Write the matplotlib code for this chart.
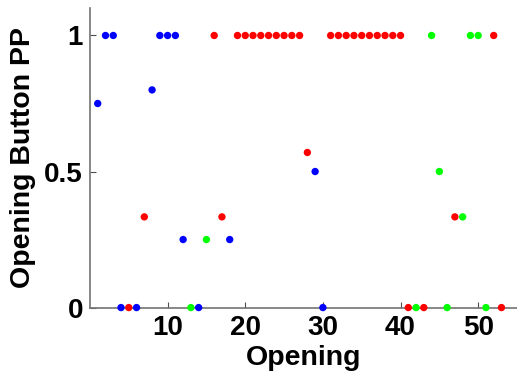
import matplotlib
matplotlib.use("Agg")
import matplotlib.pyplot as plt
from matplotlib.ticker import FuncFormatter

# opening index, button PP value, group colour
opening = list(range(1, 54))
pp = [0.75, 1, 1, 0, 0, 0, 1/3, 0.8, 1, 1,
      1, 0.25, 0, 0, 0.25, 1, 1/3, 0.25, 1, 1,
      1, 1, 1, 1, 1, 1, 1, 0.57, 0.5, 0,
      1, 1, 1, 1, 1, 1, 1, 1, 1, 1,
      0, 0, 0, 1, 0.5, 0, 1/3, 1/3, 1, 1,
      0, 1, 0]
group = ['b', 'b', 'b', 'b', 'r', 'b', 'r', 'b', 'b', 'b',
         'b', 'b', 'g', 'b', 'g', 'r', 'r', 'b', 'r', 'r',
         'r', 'r', 'r', 'r', 'r', 'r', 'r', 'r', 'b', 'b',
         'r', 'r', 'r', 'r', 'r', 'r', 'r', 'r', 'r', 'r',
         'r', 'g', 'r', 'g', 'g', 'g', 'r', 'g', 'g', 'g',
         'g', 'r', 'r']
xticks = [10, 20, 30, 40, 50]
yticks = [0, 0.5, 1]

colours = {'b': '#0000ff', 'r': '#ff0000', 'g': '#00ff00'}

plt.rcParams['font.family'] = 'Liberation Sans'
plt.rcParams['font.weight'] = 'bold'

fig = plt.figure(figsize=(5.17, 3.76), dpi=100)
ax = fig.add_axes([0.174, 0.182, 0.826, 0.796])

ax.scatter(opening, pp, c=[colours[g] for g in group], s=28,
           linewidths=0, zorder=3, clip_on=False)

ax.set_xlim(0, 55)
ax.set_ylim(0, 1.1)
ax.set_xticks(xticks)
ax.set_yticks(yticks)
ax.yaxis.set_major_formatter(FuncFormatter(lambda v, p: '%g' % v))
ax.tick_params(direction='in', length=4, width=0.8, color='0.3',
               labelsize=20, pad=5)
for s in ['top', 'right']:
    ax.spines[s].set_visible(False)
for s in ['left', 'bottom']:
    ax.spines[s].set_color('0.45')
    ax.spines[s].set_linewidth(1.2)

ax.set_xlabel('Opening', fontsize=20.5, fontweight='bold', labelpad=3)
ax.set_ylabel('Opening Button PP', fontsize=20.5, fontweight='bold', labelpad=6)

fig.savefig('out.png', dpi=100)
